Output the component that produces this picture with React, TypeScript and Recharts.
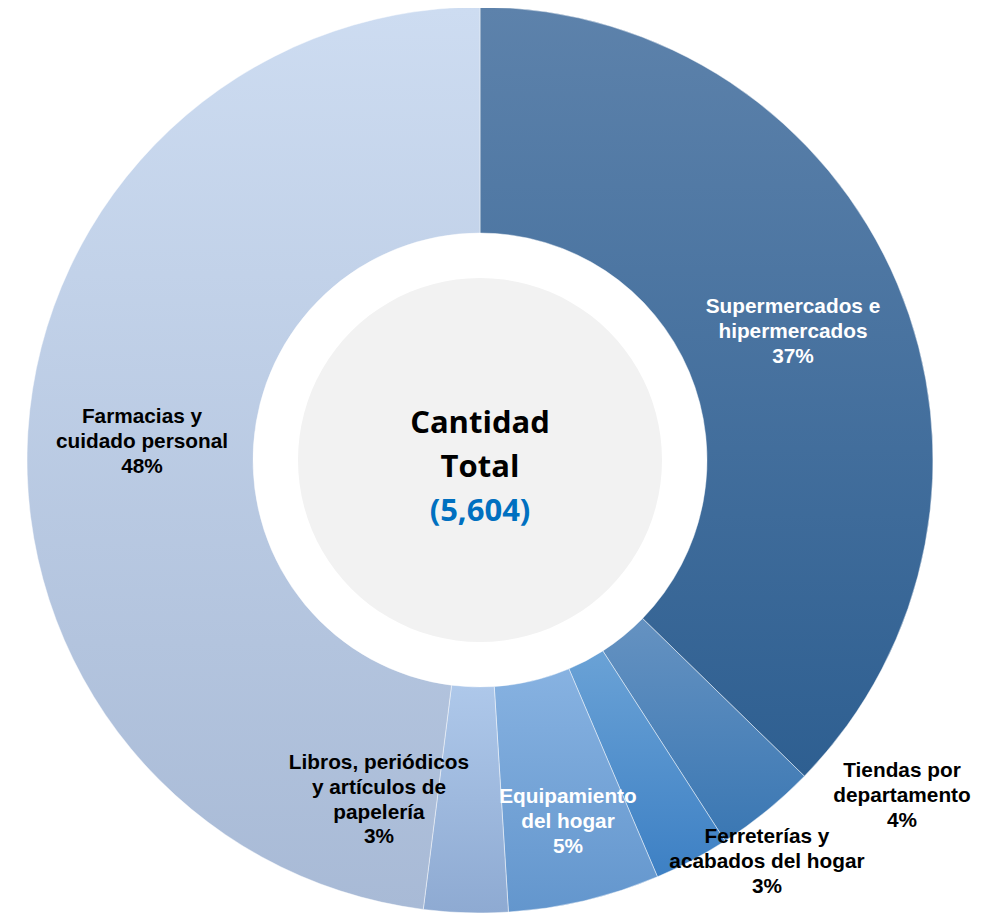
import React from "react";
import { PieChart, Pie, Cell } from "recharts";

const categories = [
  ["Supermercados e", "hipermercados"],
  ["Tiendas por", "departamento"],
  ["Ferreterías y", "acabados del hogar"],
  ["Equipamiento", "del hogar"],
  ["Libros, periódicos", "y artículos de", "papelería"],
  ["Farmacias y", "cuidado personal"],
];
const values = [2090, 202, 151, 303, 168, 2690];
const centerTitle = ["Cantidad", "Total"];
const totalLabel = "(5,604)";

const gradTop = ["#5d82ab", "#6592c1", "#6aa2d6", "#87b2e1", "#aec8ea", "#cddcf1"];
const gradBottom = ["#2e5f91", "#3a77b3", "#3d80c4", "#6396cd", "#8eaad2", "#a8bad6"];
const labelColor = ["#ffffff", "#000000", "#000000", "#ffffff", "#000000", "#000000"];
// label middle-line position relative to pie centre
const labelOffset = [
  [313, -129],
  [422, 335],
  [287, 401],
  [88, 361],
  [-101, 339],
  [-338, -19],
];

const data = categories.map((c, i) => ({ name: c.join(" "), lines: c, value: values[i] }));

const FONT = "'Liberation Sans', Arial, sans-serif";

const renderLabel = (props: any) => {
  const { cx, cy, index, percent } = props;
  const lines = [...data[index].lines, `${Math.round(percent * 100)}%`];
  const [dx, dy] = labelOffset[index];
  const lh = 24.8;
  const startY = cy + dy - ((lines.length - 1) * lh) / 2;
  return (
    <text
      key={`lbl-${index}`}
      x={cx + dx}
      y={startY}
      textAnchor="middle"
      fontFamily={FONT}
      fontWeight="bold"
      fontSize={20.8}
      fill={labelColor[index]}
    >
      {lines.map((l, i) => (
        <tspan key={i} x={cx + dx} y={startY + i * lh} dy="0.35em">
          {l}
        </tspan>
      ))}
    </text>
  );
};

const renderCenter = (props: any) => {
  const { cx, cy } = props;
  return (
    <text
      key="center"
      textAnchor="middle"
      fontFamily="'Open Sans', 'Noto Sans', sans-serif"
      fontWeight="bold"
      fontSize={31}
    >
      <tspan x={cx} y={cy - 27} fill="#000000">{centerTitle[0]}</tspan>
      <tspan x={cx} y={cy + 17} fill="#000000">{centerTitle[1]}</tspan>
      <tspan x={cx} y={cy + 61} fill="#0070c0">{totalLabel}</tspan>
    </text>
  );
};

export default function App() {
  return (
    <PieChart width={989} height={905} margin={{ top: 0, right: 0, bottom: 0, left: 0 }}>
      <defs>
        {gradTop.map((t, i) => (
          <linearGradient key={i} id={`g${i}`} x1="0" y1="0" x2="0" y2="1">
            <stop offset="0%" stopColor={t} />
            <stop offset="100%" stopColor={gradBottom[i]} />
          </linearGradient>
        ))}
      </defs>
      <Pie
        data={data}
        dataKey="value"
        cx={472}
        cy={452}
        innerRadius={227}
        outerRadius={453}
        startAngle={90}
        endAngle={-270}
        stroke="rgba(255,255,255,0.45)"
        strokeWidth={1}
        label={renderLabel}
        labelLine={false}
        isAnimationActive={false}
      >
        {data.map((d, i) => (
          <Cell key={d.name} fill={`url(#g${i})`} />
        ))}
      </Pie>
      <Pie
        data={[{ name: "center", value: 1 }]}
        dataKey="value"
        cx={472}
        cy={452}
        innerRadius={0}
        outerRadius={182}
        fill="#f2f2f2"
        stroke="none"
        label={renderCenter}
        labelLine={false}
        isAnimationActive={false}
      />
    </PieChart>
  );
}
